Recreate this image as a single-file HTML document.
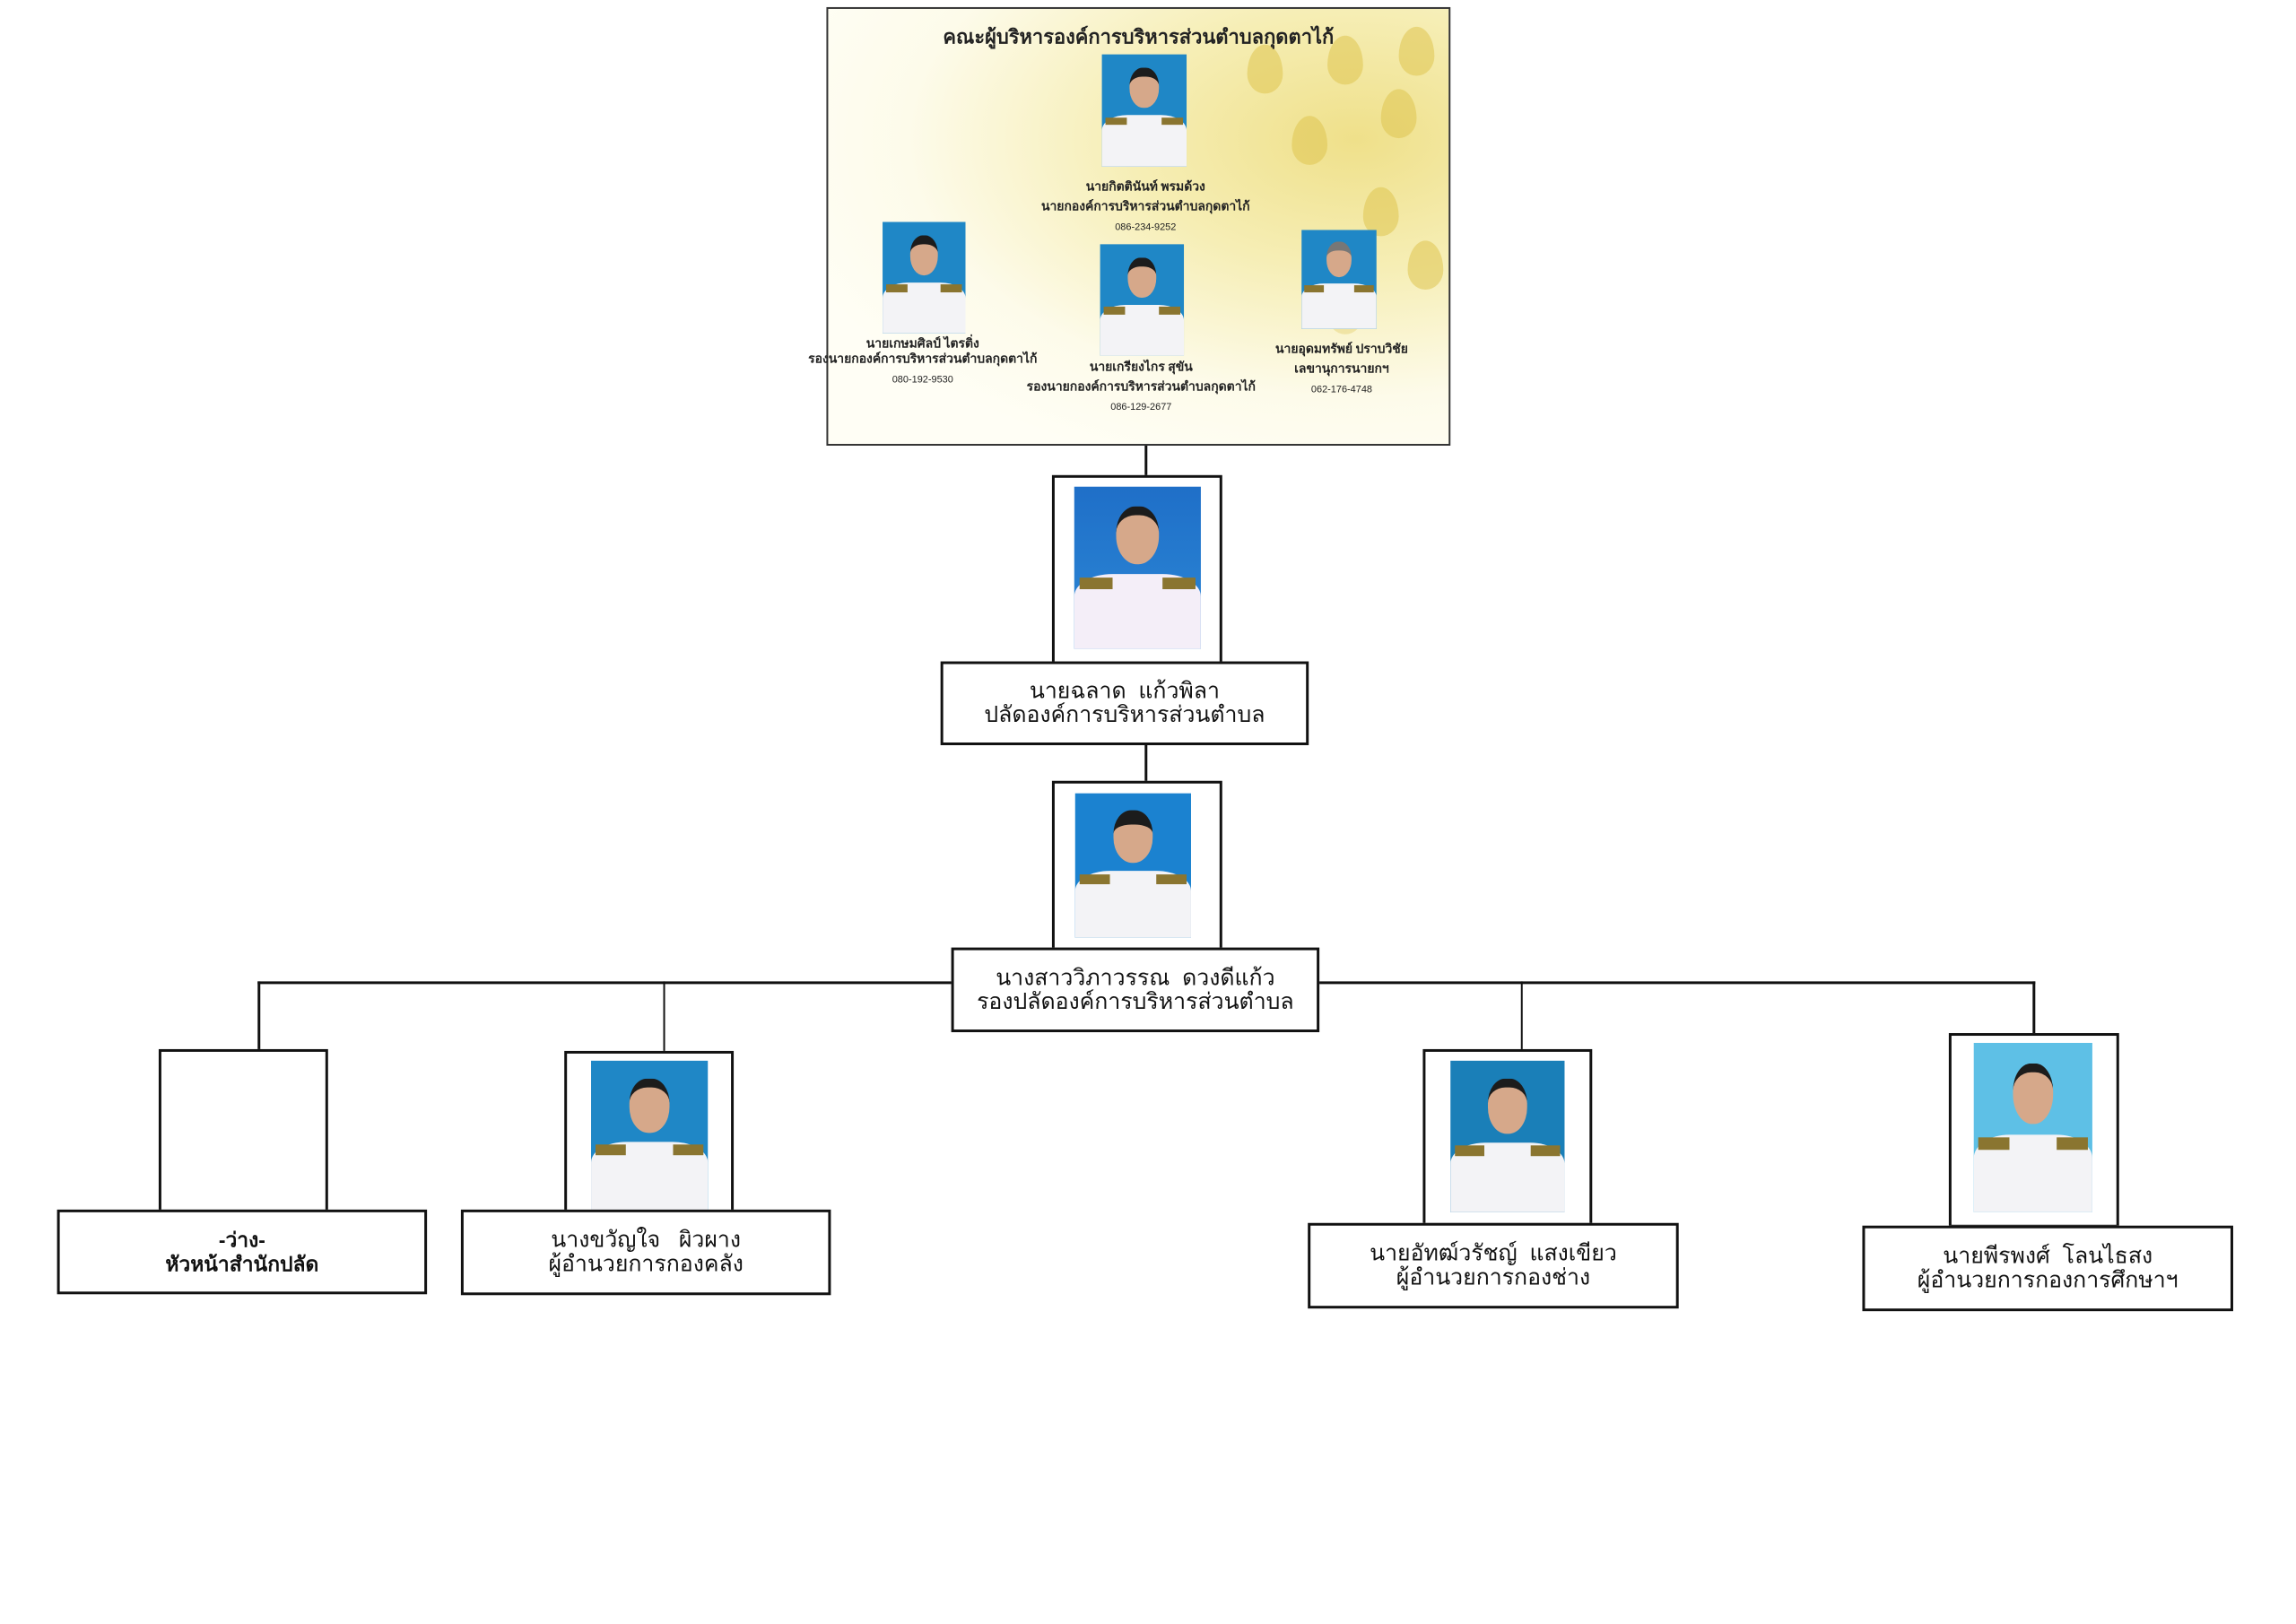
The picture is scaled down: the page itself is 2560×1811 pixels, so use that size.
<!DOCTYPE html>
<html><head><meta charset="utf-8">
<style>
*{margin:0;padding:0;box-sizing:border-box}
body{width:2560px;height:1811px;background:#fff;position:relative;overflow:hidden;font-family:"Liberation Sans","Noto Sans CJK SC",sans-serif}
#w{position:absolute;left:0;top:0;width:2560px;height:1811px;transform:scale(0.994);transform-origin:0 0}
.a{position:absolute}
.box{position:absolute;border:3px solid #111;background:#fff}
.tb{position:absolute;border:3px solid #111;background:#fff;display:flex;align-items:center;justify-content:center;text-align:center;font-size:25px;line-height:27px;color:#111}
.ln{position:absolute;background:#111}
.ph{position:absolute;background:#1f87c6;overflow:hidden}
.ph .hd{position:absolute;left:33%;width:34%;top:12%;height:36%;background:#d6a88a;border-radius:45% 45% 48% 48%;border-top:10px solid #1c1c1c}
.ph .bd{position:absolute;left:0;right:0;bottom:0;height:46%;background:#f3f3f6;border-radius:30% 30% 0 0}
.ph .ep1,.ph .ep2{position:absolute;top:56%;width:26%;height:7%;background:#8a7530}
.ph .ep1{left:4%}.ph .ep2{right:4%}
.st{position:absolute;font-family:"Liberation Serif","Noto Serif CJK SC",serif;font-weight:bold;font-size:14px;color:#222;text-align:center;line-height:22px;white-space:nowrap}
.lf{position:absolute;width:40px;height:55px;background:rgba(222,196,80,.55);border-radius:50% 50% 50% 50%/60% 60% 40% 40%}
</style></head><body><div id="w">

<!-- top panel -->
<div class="a" style="left:927px;top:8px;width:700px;height:492px;border:2px solid #333;background:radial-gradient(ellipse at 85% 30%,#efe08a 0,#f6eeb5 30%,#fdfbea 60%,#fffef5 80%);overflow:hidden">
  <div class="lf" style="left:560px;top:30px"></div>
  <div class="lf" style="left:620px;top:90px"></div>
  <div class="lf" style="left:520px;top:120px"></div>
  <div class="lf" style="left:600px;top:200px"></div>
  <div class="lf" style="left:650px;top:260px"></div>
  <div class="lf" style="left:470px;top:40px"></div>
  <div class="lf" style="left:640px;top:20px"></div>
  <div class="lf" style="left:560px;top:310px;opacity:.6"></div>
  <div class="a" style="left:0;right:0;top:14px;text-align:center;font-family:'Liberation Serif','Noto Serif CJK SC',serif;font-weight:bold;font-size:22px;color:#222">คณะผู้บริหารองค์การบริหารส่วนตำบลกุดตาไก้</div>
</div>
<div class="ph" style="left:1236px;top:61px;width:95px;height:126px"><div class="hd"></div><div class="bd"></div><div class="ep1"></div><div class="ep2"></div></div>
<div class="st" style="left:1140px;top:200px;width:290px">นายกิตตินันท์ พรมด้วง<br>นายกองค์การบริหารส่วนตำบลกุดตาไก้<br><span style="font-family:'Liberation Sans';font-size:11px;font-weight:normal">086-234-9252</span></div>
<div class="ph" style="left:990px;top:249px;width:93px;height:125px"><div class="hd"></div><div class="bd"></div><div class="ep1"></div><div class="ep2"></div></div>
<div class="st" style="left:905px;top:378px;width:260px;line-height:17px">นายเกษมศิลป์ ไตรติ่ง<br>รองนายกองค์การบริหารส่วนตำบลกุดตาไก้<br><span style="font-family:'Liberation Sans';font-size:11px;font-weight:normal;line-height:28px">080-192-9530</span></div>
<div class="ph" style="left:1234px;top:274px;width:94px;height:125px"><div class="hd"></div><div class="bd"></div><div class="ep1"></div><div class="ep2"></div></div>
<div class="st" style="left:1140px;top:402px;width:280px">นายเกรียงไกร สุขัน<br>รองนายกองค์การบริหารส่วนตำบลกุดตาไก้<br><span style="font-family:'Liberation Sans';font-size:11px;font-weight:normal">086-129-2677</span></div>
<div class="ph" style="left:1460px;top:258px;width:84px;height:111px"><div class="hd" style="border-top-color:#777"></div><div class="bd"></div><div class="ep1"></div><div class="ep2"></div></div>
<div class="st" style="left:1400px;top:382px;width:210px">นายอุดมทรัพย์ ปราบวิชัย<br>เลขานุการนายกฯ<br><span style="font-family:'Liberation Sans';font-size:11px;font-weight:normal">062-176-4748</span></div>

<!-- connectors -->
<div class="ln" style="left:1284px;top:500px;width:3px;height:34px"></div>
<div class="ln" style="left:1284px;top:835px;width:3px;height:42px"></div>
<div class="ln" style="left:289px;top:1101px;width:1994px;height:3px"></div>
<div class="ln" style="left:289px;top:1101px;width:3px;height:78px"></div>
<div class="ln" style="left:744px;top:1101px;width:2px;height:78px"></div>
<div class="ln" style="left:1706px;top:1101px;width:2px;height:78px"></div>
<div class="ln" style="left:2280px;top:1101px;width:3px;height:60px"></div>

<!-- palad -->
<div class="box" style="left:1180px;top:533px;width:191px;height:212px"></div>
<div class="ph" style="left:1205px;top:546px;width:142px;height:182px;background:linear-gradient(#1f6fc8,#2c88d6)"><div class="hd"></div><div class="bd" style="background:#f4eef8"></div><div class="ep1"></div><div class="ep2"></div></div>
<div class="tb" style="left:1055px;top:742px;width:413px;height:94px">นายฉลาด&nbsp; แก้วพิลา<br>ปลัดองค์การบริหารส่วนตำบล</div>

<!-- deputy palad -->
<div class="box" style="left:1180px;top:876px;width:191px;height:190px"></div>
<div class="ph" style="left:1206px;top:890px;width:130px;height:162px;background:#1b82d0"><div class="hd" style="border-top-width:16px"></div><div class="bd"></div><div class="ep1"></div><div class="ep2"></div></div>
<div class="tb" style="left:1067px;top:1063px;width:413px;height:95px">นางสาววิภาวรรณ&nbsp; ดวงดีแก้ว<br>รองปลัดองค์การบริหารส่วนตำบล</div>

<!-- vacant -->
<div class="box" style="left:178px;top:1177px;width:190px;height:183px"></div>
<div class="tb" style="left:64px;top:1357px;width:415px;height:95px;font-weight:bold;font-size:23px">-ว่าง-<br>หัวหน้าสำนักปลัด</div>

<!-- finance -->
<div class="box" style="left:633px;top:1179px;width:190px;height:183px"></div>
<div class="ph" style="left:663px;top:1190px;width:131px;height:168px"><div class="hd"></div><div class="bd"></div><div class="ep1"></div><div class="ep2"></div></div>
<div class="tb" style="left:517px;top:1357px;width:415px;height:96px">นางขวัญใจ&nbsp;&nbsp; ผิวผาง<br>ผู้อำนวยการกองคลัง</div>

<!-- engineering -->
<div class="box" style="left:1596px;top:1177px;width:190px;height:198px"></div>
<div class="ph" style="left:1627px;top:1190px;width:128px;height:170px;background:#1a7fb8"><div class="hd"></div><div class="bd"></div><div class="ep1"></div><div class="ep2"></div></div>
<div class="tb" style="left:1467px;top:1372px;width:416px;height:96px">นายอัทฒ์วรัชญ์&nbsp; แสงเขียว<br>ผู้อำนวยการกองช่าง</div>

<!-- education -->
<div class="box" style="left:2186px;top:1159px;width:191px;height:218px"></div>
<div class="ph" style="left:2214px;top:1170px;width:133px;height:190px;background:#5ec0e6"><div class="hd"></div><div class="bd"></div><div class="ep1"></div><div class="ep2"></div></div>
<div class="tb" style="left:2089px;top:1375px;width:416px;height:96px">นายพีรพงศ์&nbsp; โลนไธสง<br>ผู้อำนวยการกองการศึกษาฯ</div>

</div></body></html>
